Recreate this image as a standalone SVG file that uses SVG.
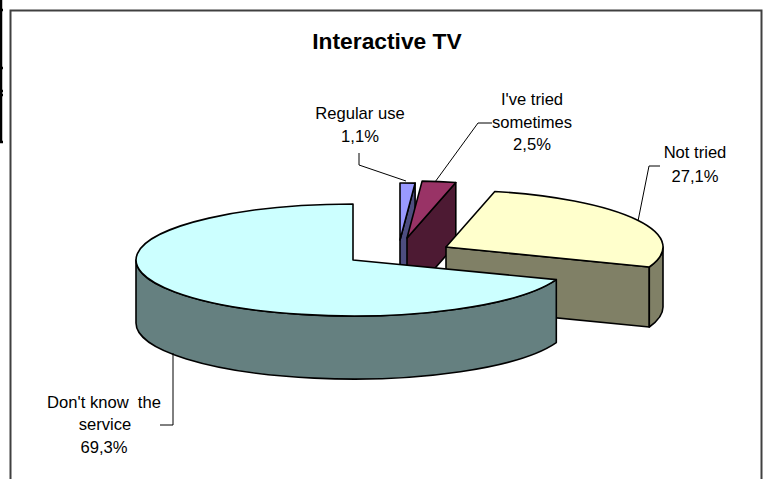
<svg xmlns="http://www.w3.org/2000/svg" width="766" height="479" viewBox="0 0 766 479">
<style>
text{font-family:"Liberation Sans",Arial,sans-serif;font-size:16.6px;fill:#000;text-anchor:middle}
.title{font-size:22.8px;font-weight:bold}
.edge{stroke:#000;stroke-width:1.6;stroke-linejoin:round}
.lead{fill:none;stroke:#000;stroke-width:1}
</style>
<rect x="0" y="0" width="766" height="479" fill="#fff"/>
<g id="frame" fill="none">
<path d="M10.5,480 V10.5 H761.5 V480" stroke="#404040" stroke-width="2"/>
<path d="M1,0 V142 M0,10 H3 M0,68 H3 M0,91 H3 M0,95 H3 M0,142 H3" stroke="#000" stroke-width="2.5"/>
</g>
<g id="title"><text class="title" x="387" y="49">Interactive TV</text></g>
<g id="slice-regular-use">
<path class="edge" fill="#4D4D80" d="M400,240 L415.1,183.1 L415.1,246.1 L400,303 Z"/>
<path class="edge" fill="#9999FF" d="M400,240 L400,183 A217,57 0 0 1 415.1,183.1 Z"/>
</g>
<g id="slice-tried-sometimes">
<path class="edge" fill="#4D1A33" d="M407,238 L455.8,182.5 L455.8,244.5 L407,300 Z"/>
<path class="edge" fill="#993366" d="M407,238 L422.1,181.1 A217,57 0 0 1 455.8,182.5 Z"/>
</g>
<g id="slice-not-tried">
<path class="edge" fill="#808066" d="M446,247 L649.3,267 L649.3,327 L446,307 Z"/>
<path class="edge" fill="#808066" d="M663,247 L663,307 A217,57 0 0 1 649.3,327 L649.3,267 A217,57 0 0 0 663,247 Z"/>
<path class="edge" fill="#FFFFCC" d="M446,247 L494.8,191.5 A217,57 0 0 1 649.3,267 Z"/>
</g>
<g id="slice-dont-know">
<path class="edge" fill="#658080" d="M556.3,279.6 L556.3,342.6 A217,56 0 0 1 136,323 L136,260 A217,56 0 0 0 556.3,279.6 Z"/>
<path class="edge" fill="#CCFFFF" d="M353,260 L556.3,279.6 A217,56 0 1 1 353,204 Z"/>
</g>
<g id="connectors">
<polyline class="lead" points="359,153 359,165 406,181"/>
<polyline class="lead" points="492,123 478,123 435,182"/>
<polyline class="lead" points="660,166 649,166 638,221"/>
<polyline class="lead" points="173,353 173,425 160,425"/>
</g>
<g id="labels">
<g id="label-regular-use"><text x="360" y="119">Regular use</text><text x="360" y="142">1,1%</text></g>
<g id="label-tried-sometimes"><text x="532" y="105">I've tried</text><text x="532" y="128">sometimes</text><text x="532" y="150">2,5%</text></g>
<g id="label-not-tried"><text x="695" y="158">Not tried</text><text x="695" y="182">27,1%</text></g>
<g id="label-dont-know"><text x="104" y="408" xml:space="preserve">Don't know  the</text><text x="105" y="430">service</text><text x="104" y="453">69,3%</text></g>
</g>
</svg>
